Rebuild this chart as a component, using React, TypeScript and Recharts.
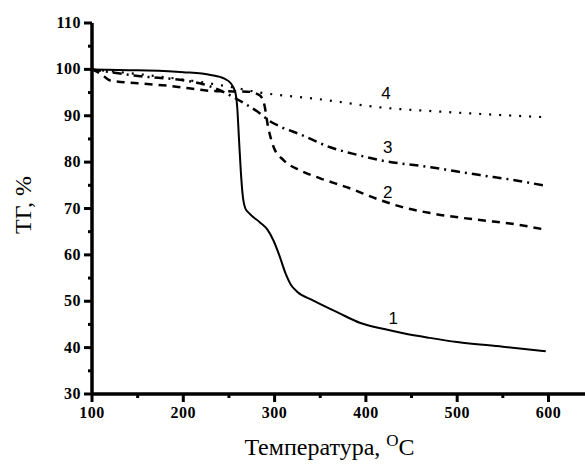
import React from 'react';
import { LineChart, Line, XAxis, YAxis, Label, ReferenceDot } from 'recharts';

// TG curves, temperature (°C) vs mass (%)
const curve1 = [
  [100, 100], [150, 99.8], [200, 99.4], [230, 98.8], [245, 98], [252, 97], [257, 95],
  [259, 92], [261, 85], [263, 78], [265, 73], [268, 70], [272, 69], [284, 67],
  [292, 65.5], [299, 63], [305, 60], [312, 56], [318, 53.5], [325, 52], [342, 50.2],
  [370, 47.5], [394, 45.3], [420, 44], [441, 43.1], [470, 42.1], [500, 41.2],
  [550, 40.2], [597, 39.2],
];
const curve2 = [
  [100, 100], [110, 99], [120, 97.6], [150, 97], [182, 96.5], [237, 95.3], [270, 95.2],
  [283, 94.5], [288, 93], [293, 87.5], [299, 83.2], [310, 80.4], [328, 78.2],
  [350, 76.5], [379, 74.6], [416, 71.8], [440, 70.3], [471, 69], [525, 67.5],
  [560, 66.7], [595, 65.5],
];
const curve3 = [
  [100, 100], [146, 98.7], [218, 97], [240, 95.5], [255, 94], [270, 92.3], [284, 90.5],
  [295, 88.8], [307, 87.6], [328, 86], [361, 83.2], [390, 81.6], [416, 80.4],
  [471, 78.9], [525, 77.2], [560, 76.2], [594, 75],
];
const curve4 = [
  [100, 100], [150, 99], [200, 97.8], [255, 96.1], [284, 95], [328, 94], [343, 93.7],
  [416, 91.8], [489, 90.8], [595, 89.7],
];

const xTicks = [100, 150, 200, 250, 300, 350, 400, 450, 500, 550, 600];
const yTicks = [30, 35, 40, 45, 50, 55, 60, 65, 70, 75, 80, 85, 90, 95, 100, 105, 110];

const curveLabels = [
  { name: '1', t: 430, m: 46.3 },
  { name: '2', t: 424, m: 73.5 },
  { name: '3', t: 424, m: 83.2 },
  { name: '4', t: 422, m: 95 },
];

const toRows = (pts: number[][]) => pts.map(([t, m]) => ({ t, m }));

const TICK_SIZE = 7;
const TICK_MARGIN = 3;
const tickFont = '"Liberation Serif", "Times New Roman", serif';

const YTick = (props: any) => {
  const { x, y, payload } = props;
  const axisX = x + TICK_SIZE + TICK_MARGIN;
  const major = payload.value % 10 === 0;
  return (
    <g>
      <line x1={axisX - (major ? 8 : 4)} x2={axisX} y1={y} y2={y} stroke="#000" strokeWidth={3} />
      {major && (
        <text x={x - 1} y={y} dy={5} textAnchor="end" fontFamily={tickFont} fontWeight="bold" fontSize={16} letterSpacing={0.5} fill="#000">
          {payload.value}
        </text>
      )}
    </g>
  );
};

const XTick = (props: any) => {
  const { x, y, payload } = props;
  const axisY = y - TICK_SIZE - TICK_MARGIN;
  const major = payload.value % 100 === 0;
  return (
    <g>
      <line x1={x} x2={x} y1={axisY} y2={axisY + (major ? 8 : 4)} stroke="#000" strokeWidth={3} />
      {major && (
        <text x={x} y={axisY + 24} textAnchor="middle" fontFamily={tickFont} fontWeight="bold" fontSize={16} letterSpacing={0.5} fill="#000">
          {payload.value}
        </text>
      )}
    </g>
  );
};

const XTitle = (props: any) => {
  const vb = props.viewBox;
  return (
    <text x={vb.x + vb.width / 2 - 9} y={vb.y + 61} textAnchor="middle" fontFamily={tickFont} fontSize={24} fill="#000">
      Температура,{' '}
      <tspan fontSize={17} dy={-9}>O</tspan>
      <tspan dy={9}>C</tspan>
    </text>
  );
};

const YTitle = () => (
  <text x={0} y={0} transform="translate(31, 205) rotate(-90)" textAnchor="middle" fontFamily={tickFont} fontSize={24} fill="#000">
    ТГ, %
  </text>
);

export default function App() {
  return (
    <div style={{ position: 'absolute', left: 0, top: 0, width: 585, height: 468, background: '#fff' }}>
      <LineChart width={585} height={468} margin={{ top: 23, right: 0, left: 0, bottom: 0 }}>
        <XAxis
          type="number"
          dataKey="t"
          domain={[100, 640]}
          ticks={xTicks}
          interval={0}
          height={74}
          tickSize={TICK_SIZE}
          tickMargin={TICK_MARGIN}
          tickLine={false}
          tick={<XTick />}
          axisLine={{ stroke: '#000', strokeWidth: 3.5 }}
          allowDataOverflow
        >
          <Label content={<XTitle />} />
        </XAxis>
        <YAxis
          type="number"
          dataKey="m"
          domain={[30, 110]}
          ticks={yTicks}
          interval={0}
          width={92}
          tickSize={TICK_SIZE}
          tickMargin={TICK_MARGIN}
          tickLine={false}
          tick={<YTick />}
          axisLine={{ stroke: '#000', strokeWidth: 3.5 }}
          allowDataOverflow
        >
          <Label content={<YTitle />} />
        </YAxis>
        <Line data={toRows(curve4)} dataKey="m" type="monotone" stroke="#000" strokeWidth={2.2} strokeDasharray="2 8" dot={false} isAnimationActive={false} />
        <Line data={toRows(curve3)} dataKey="m" type="monotone" stroke="#000" strokeWidth={2.5} strokeDasharray="9 5 2 5" dot={false} isAnimationActive={false} />
        <Line data={toRows(curve2)} dataKey="m" type="monotone" stroke="#000" strokeWidth={2.5} strokeDasharray="8 6" dot={false} isAnimationActive={false} />
        <Line data={toRows(curve1)} dataKey="m" type="monotone" stroke="#000" strokeWidth={2} dot={false} isAnimationActive={false} />
        {curveLabels.map((c) => (
          <ReferenceDot
            key={c.name}
            x={c.t}
            y={c.m}
            r={0}
            fill="none"
            stroke="none"
            label={{ value: c.name, position: 'center', fontFamily: 'Arial, "Liberation Sans", sans-serif', fontSize: 17, fill: '#000' }}
          />
        ))}
      </LineChart>
    </div>
  );
}
